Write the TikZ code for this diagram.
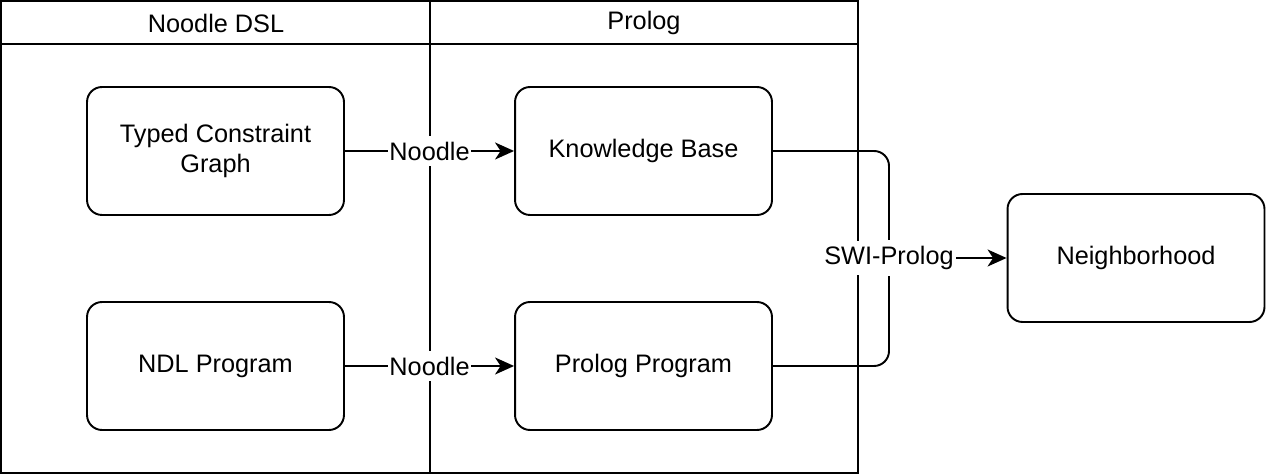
\documentclass[tikz,border=0pt]{standalone}
\usepackage{fontspec}
\setmainfont{Liberation Sans}
\usetikzlibrary{arrows.meta}

\begin{document}
\begin{tikzpicture}[x=0.02cm,y=-0.02cm,line width=1.1pt,
  font=\fontsize{14.4}{17.5}\selectfont,
  box/.style={draw,rounded corners=0.3cm,minimum width=5.14cm,minimum height=2.56cm,align=center},
  lbl/.style={fill=white,inner xsep=1pt,inner ysep=3pt},
  >={Stealth[length=0.38cm,width=0.34cm,inset=0.11cm]}]
 \useasboundingbox (0,0) rectangle (1266,475); % 全体

 \draw (1,1) rectangle (858,473); % 外枠
 \draw (1,44) -- (858,44); % ヘッダ
 \draw (430,1) -- (430,473); % 区切り
 \node (dsl) at (216,23) {Noodle DSL}; % 見出し
 \node (pl) at (644,23) {Prolog}; % 見出し

 \node[box] (tcg) at (215.5,151) {Typed Constraint\\Graph}; % 箱
 \node[box] (ndl) at (215.5,366) {NDL Program};
 \node[box] (kb) at (643.5,151) {Knowledge Base};
 \node[box] (pp) at (643.5,366) {Prolog Program};
 \node[box] (nb) at (1136,258) {Neighborhood};

 \draw[->] (tcg) -- node[lbl] {Noodle} (kb); % 矢印
 \draw[->] (ndl) -- node[lbl] {Noodle} (pp); % 矢印

 \node[lbl] (swi) at (889,258) {SWI-Prolog}; % ラベル
 \draw[rounded corners=0.3cm] (kb.east) -| (swi); % 合流
 \draw[rounded corners=0.3cm] (pp.east) -| (swi); % 合流
 \draw[->] (swi) -- (nb); % 矢印
\end{tikzpicture}
\end{document}
